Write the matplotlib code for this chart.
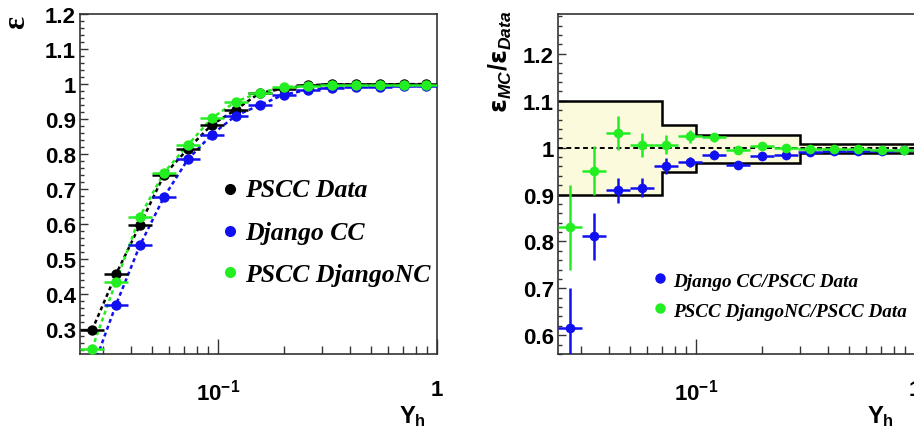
import matplotlib
matplotlib.use('Agg')
import matplotlib.pyplot as plt
import numpy as np
from matplotlib.ticker import FixedLocator, MultipleLocator, FuncFormatter, NullFormatter, LogLocator

plt.rcParams['font.family'] = ['Liberation Sans', 'DejaVu Sans']
plt.rcParams['font.weight'] = 'bold'
plt.rcParams['mathtext.fontset'] = 'custom'
plt.rcParams['mathtext.rm'] = 'Liberation Sans:bold'
plt.rcParams['mathtext.bf'] = 'Liberation Sans:bold'
plt.rcParams['mathtext.it'] = 'Liberation Sans:italic:bold'
plt.rcParams['mathtext.bfit'] = 'Liberation Sans:italic:bold'
plt.rcParams['mathtext.sf'] = 'DejaVu Sans'

# ---------------- data ----------------
bin_edges = [0.02344, 0.0301, 0.0388, 0.0499, 0.0642, 0.0826, 0.1063, 0.1368,
             0.176, 0.2265, 0.2915, 0.375, 0.4827, 0.621, 0.799, 1.0]
bin_centers = [0.0266, 0.0342, 0.0440, 0.0566, 0.0728, 0.0937, 0.1206, 0.1552,
               0.1997, 0.2569, 0.3306, 0.4254, 0.5475, 0.7044, 0.8939]

eff_data = [0.298, 0.457, 0.598, 0.740, 0.815, 0.884, 0.927, 0.975, 0.987,
            0.997, 0.999, 0.999, 0.999, 1.000, 1.000]
eff_data_err = [0.010, 0.010, 0.009, 0.008, 0.007, 0.006, 0.005, 0.004, 0.003,
                0.003, 0.002, 0.002, 0.002, 0.002, 0.002]
eff_cc = [0.183, 0.370, 0.540, 0.677, 0.785, 0.856, 0.910, 0.940, 0.970,
          0.983, 0.990, 0.992, 0.993, 0.995, 0.996]
eff_cc_err = [0.015, 0.012, 0.010, 0.009, 0.008, 0.006, 0.005, 0.004, 0.003,
              0.003, 0.002, 0.002, 0.002, 0.002, 0.002]
eff_nc = [0.245, 0.436, 0.622, 0.747, 0.826, 0.903, 0.950, 0.976, 0.991,
          0.996, 0.997, 0.997, 0.998, 0.998, 0.997]
eff_nc_err = [0.012, 0.010, 0.009, 0.008, 0.007, 0.006, 0.005, 0.004, 0.003,
              0.003, 0.002, 0.002, 0.002, 0.002, 0.002]

ratio_cc = [0.615, 0.811, 0.909, 0.915, 0.960, 0.970, 0.985, 0.964, 0.983,
            0.985, 0.990, 0.992, 0.992, 0.992, 0.995]
ratio_cc_err = [0.085, 0.050, 0.026, 0.020, 0.017, 0.011, 0.009, 0.007, 0.006,
                0.005, 0.004, 0.004, 0.003, 0.003, 0.003]
ratio_nc = [0.830, 0.951, 1.032, 1.006, 1.006, 1.024, 1.022, 0.996, 1.003,
            0.999, 0.997, 0.998, 0.997, 0.996, 0.996]
ratio_nc_err = [0.090, 0.053, 0.036, 0.026, 0.020, 0.014, 0.010, 0.008, 0.006,
                0.005, 0.004, 0.004, 0.003, 0.003, 0.003]

band_edges = [0.02344, 0.07, 0.1, 0.3, 1.0]
band_upper = [1.100, 1.048, 1.027, 1.007]
band_lower = [0.900, 0.948, 0.968, 0.988]

labels_left = ['PSCC Data', 'Django CC', 'PSCC DjangoNC']
labels_right = ['Django CC/PSCC Data', 'PSCC DjangoNC/PSCC Data']

C_BLACK = '#000000'
C_BLUE = '#1010f0'
C_GREEN = '#22ee22'
C_BAND = '#fcfadc'

# ---------------- figure ----------------
W, H = 914, 435
fig = plt.figure(figsize=(W / 100, H / 100), dpi=100)


def px_axes(x0, y0, x1, y1):
    return fig.add_axes([x0 / W, 1 - y1 / H, (x1 - x0) / W, (y1 - y0) / H])


ax1 = px_axes(80, 15, 437, 355)
ax2 = px_axes(558, 15, 915, 355)

x = np.array(bin_centers)
e = np.array(bin_edges)
xerr = [x - e[:-1], e[1:] - x]

fmt_g = FuncFormatter(lambda v, p: f'{v:g}')

for ax in (ax1, ax2):
    ax.set_xscale('log')
    ax.set_xlim(bin_edges[0], 1.0)
    ax.xaxis.set_major_locator(FixedLocator([0.1, 1.0]))
    ax.xaxis.set_minor_locator(LogLocator(base=10, subs=np.arange(2, 10) * 1.0, numticks=20))
    ax.xaxis.set_minor_formatter(NullFormatter())
    ax.set_xticklabels([r'$\mathbf{10^{-1}}$', '1'])
    ax.yaxis.set_major_locator(MultipleLocator(0.1))
    ax.yaxis.set_minor_locator(MultipleLocator(0.02))
    ax.yaxis.set_major_formatter(fmt_g)
    ax.tick_params(axis='both', which='both', direction='in', top=False, right=False,
                   width=1.0, color='#333333')
    ax.tick_params(axis='x', which='major', length=11, pad=18, labelsize=16)
    ax.tick_params(axis='x', which='minor', length=5.5)
    ax.tick_params(axis='y', which='major', length=6, pad=3, labelsize=16)
    ax.tick_params(axis='y', which='minor', length=3)
    for s in ax.spines.values():
        s.set_linewidth(1.2)
        s.set_color('#333333')

# ---- left panel ----
ax1.set_ylim(0.23, 1.2)
series = [(eff_data, eff_data_err, C_BLACK), (eff_cc, eff_cc_err, C_BLUE),
          (eff_nc, eff_nc_err, C_GREEN)]
for i, (yv, ye, c) in enumerate(series):
    ax1.plot(x, yv, linestyle=(0, (1.6, 1.3)), lw=1.8, color=c, zorder=2 + i)
for i, (yv, ye, c) in enumerate(series):
    ax1.errorbar(x, yv, xerr=xerr, yerr=ye, fmt='o', color=c, ms=7.5,
                 mew=0, elinewidth=1.8, capsize=0, zorder=5 + i)

leg_y_marker = [0.485, 0.362, 0.241]
leg_y_text = [0.465, 0.338, 0.215]
for lab, c, ym, yt in zip(labels_left, [C_BLACK, C_BLUE, C_GREEN], leg_y_marker, leg_y_text):
    ax1.plot([0.42], [ym], 'o', color=c, ms=8, mew=0, transform=ax1.transAxes, clip_on=False)
    ax1.text(0.462, yt, lab, transform=ax1.transAxes, family='Liberation Serif',
             weight='bold', style='italic', fontsize=18.5, va='baseline', ha='left')

# ---- right panel ----
ax2.set_ylim(0.56, 1.285)
ax2.stairs(band_upper, band_edges, baseline=band_lower, fill=True, color=C_BAND, zorder=1)
ax2.stairs(band_upper, band_edges, baseline=None, color='k', lw=1.8, zorder=2)
ax2.stairs(band_lower, band_edges, baseline=None, color='k', lw=1.8, zorder=2)
ax2.axhline(1.0, color='k', ls=(0, (2.5, 1.8)), lw=1.4, zorder=3)
ax2.errorbar(x, ratio_cc, xerr=xerr, yerr=ratio_cc_err, fmt='o', color=C_BLUE, ms=7,
             mew=0, elinewidth=1.8, capsize=0, zorder=5)
ax2.errorbar(x, ratio_nc, xerr=xerr, yerr=ratio_nc_err, fmt='o', color=C_GREEN, ms=7,
             mew=0, elinewidth=1.8, capsize=0, zorder=6)

for lab, c, ym, yt in zip(labels_right, [C_BLUE, C_GREEN], [0.2235, 0.135], [0.2, 0.112]):
    ax2.plot([0.286], [ym], 'o', color=c, ms=7.5, mew=0, transform=ax2.transAxes, clip_on=False)
    ax2.text(0.322, yt, lab, transform=ax2.transAxes, family='Liberation Serif',
             weight='bold', style='italic', fontsize=13.8, va='baseline', ha='left')

# ---- axis titles ----
fig.text(17 / W, 1 - 22 / H, 'ε', family='Liberation Serif', fontsize=22,
         rotation=90, ha='center', va='center')
fig.text(500 / W, 1 - 62 / H,
         r'$\mathsf{\varepsilon}_{\mathbfit{MC}}/\mathsf{\varepsilon}_{\mathbfit{Data}}$',
         fontsize=18, rotation=90, ha='center', va='center')
fig.text(426 / W, 1 - 417 / H, r'$\mathbf{Y_{h}}$', fontsize=17, ha='right', va='center')
fig.text(894 / W, 1 - 417 / H, r'$\mathbf{Y_{h}}$', fontsize=17, ha='right', va='center')

fig.savefig('out.png', dpi=100)
